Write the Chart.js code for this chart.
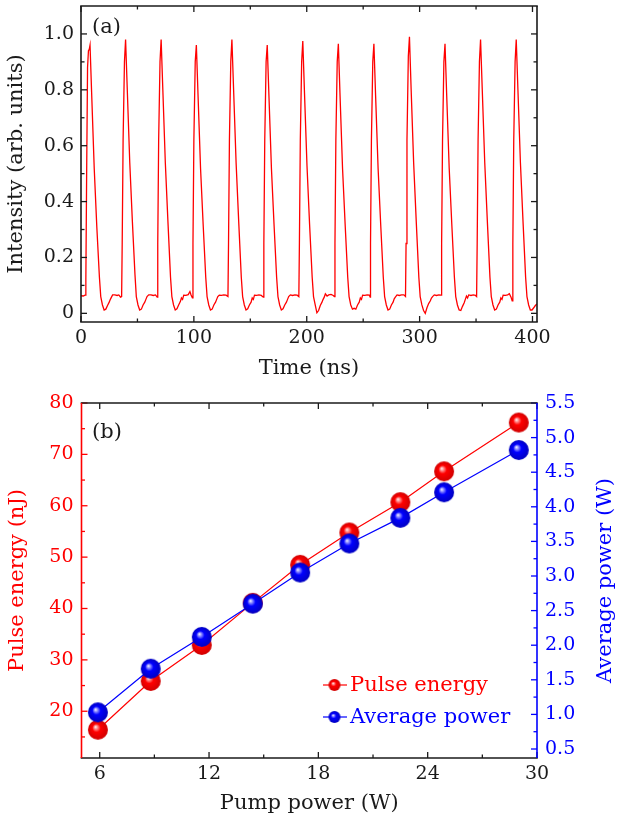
<!DOCTYPE html>
<html><head><meta charset="utf-8">
<script src="https://cdn.jsdelivr.net/npm/chart.js@4.4.1/dist/chart.umd.min.js"></script>
<style>
html,body{margin:0;padding:0;background:#fff;}
#wrapA{position:absolute;left:0;top:0;width:617px;height:385px;}
#wrapB{position:absolute;left:0;top:385px;width:617px;height:436px;}
canvas{display:block;}
</style></head><body>
<div id="wrapA"><canvas id="cA" width="617" height="385"></canvas></div>
<div id="wrapB"><canvas id="cB" width="617" height="436"></canvas></div>
<script>
// ---------- Panel (a): pulse train, [time (ns), intensity] ----------
const traceA = [
 [0,0.063],[2,0.062],[3.6,0.065],[4.3,0.12],[5.0,0.5],[5.8,0.88],[6.6,0.94],[7.3,0.945],[8.0,0.96],[9.5,0.78],[11.7,0.52],[14.0,0.31],[16.3,0.13],[17.5,0.06],[19.0,0.03],[20.5,0.012],[22.0,0.015],[23.5,0.028],[25.0,0.04],[26.0,0.05],[27.0,0.058],[28.0,0.066],[30.0,0.066],[32.0,0.064],[33.5,0.066],[35.0,0.058],[36.0,0.06],
 [36.5,0.25],[37.3,0.62],[38.5,0.9],[39.5,0.98],[41.0,0.8],[43.2,0.54],[45.5,0.33],[47.8,0.14],[49.0,0.06],[50.5,0.03],[52.0,0.012],[53.5,0.015],[55.0,0.03],[56.5,0.04],[57.5,0.05],[58.5,0.06],[60.0,0.066],[62.0,0.066],[64.0,0.064],[66.0,0.066],[67.5,0.058],
 [68.0,0.25],[68.8,0.62],[70.0,0.9],[71.0,0.98],[72.5,0.8],[74.7,0.54],[77.0,0.33],[79.3,0.13],[80.5,0.06],[82.0,0.03],[83.5,0.012],[85.0,0.016],[86.5,0.03],[88.0,0.042],[89.0,0.055],[90.0,0.05],[91.0,0.065],[93.0,0.064],[95.0,0.067],[96.5,0.078],[97.5,0.066],[98.7,0.055],
 [99.2,0.25],[100.0,0.62],[101.2,0.9],[102.2,0.96],[103.7,0.78],[105.9,0.52],[108.2,0.32],[110.5,0.13],[111.7,0.06],[113.2,0.03],[114.7,0.012],[116.2,0.015],[117.7,0.03],[119.2,0.04],[120.2,0.05],[121.2,0.06],[122.5,0.065],[124.5,0.064],[126.5,0.066],[128.5,0.065],[130.2,0.06],
 [130.7,0.25],[131.5,0.62],[132.7,0.9],[133.7,0.98],[135.2,0.8],[137.4,0.54],[139.7,0.33],[142.0,0.13],[143.2,0.06],[144.7,0.03],[146.2,0.012],[147.7,0.016],[149.2,0.03],[150.7,0.04],[151.7,0.055],[152.7,0.05],[153.7,0.065],[155.7,0.064],[157.7,0.066],[159.7,0.064],[161.5,0.058],
 [162.0,0.25],[162.8,0.62],[164.0,0.9],[165.0,0.96],[166.5,0.78],[168.7,0.52],[171.0,0.32],[173.3,0.13],[174.5,0.06],[176.0,0.03],[177.5,0.012],[179.0,0.016],[180.5,0.03],[182.0,0.04],[183.0,0.05],[184.0,0.06],[185.5,0.066],[187.5,0.064],[189.5,0.066],[191.5,0.065],[193.0,0.06],
 [193.5,0.25],[194.3,0.62],[195.5,0.9],[196.5,0.975],[198.0,0.79],[200.2,0.53],[202.5,0.32],[204.8,0.13],[206.0,0.06],[207.5,0.03],[209.0,0.002],[210.5,0.01],[212.0,0.028],[213.5,0.04],[214.5,0.05],[215.5,0.058],[216.5,0.07],[218.0,0.062],[219.5,0.066],[221.5,0.068],[223.5,0.064],[224.5,0.06],
 [225.0,0.25],[225.8,0.62],[227.0,0.9],[228.0,0.965],[229.5,0.78],[231.7,0.52],[234.0,0.32],[236.3,0.13],[237.5,0.06],[239.0,0.03],[240.5,0.015],[242.0,0.018],[243.5,0.015],[245.0,0.03],[246.5,0.04],[247.5,0.055],[248.5,0.05],[249.5,0.065],[251.5,0.064],[253.5,0.066],[255.5,0.065],[256.2,0.058],
 [256.5,0.25],[257.3,0.62],[258.5,0.9],[259.5,0.965],[261.0,0.78],[263.2,0.52],[265.5,0.32],[267.8,0.13],[269.0,0.06],[270.5,0.03],[272.0,0.012],[273.5,0.015],[275.0,0.03],[276.5,0.04],[277.5,0.052],[278.5,0.058],[280.0,0.066],[282.0,0.064],[284.0,0.066],[286.0,0.066],[287.5,0.06],
 [288.0,0.25],[288.8,0.62],[290.0,0.92],[291.0,0.99],[292.5,0.8],[294.7,0.54],[297.0,0.33],[299.3,0.13],[300.5,0.06],[302.0,0.03],[303.5,0.01],[305.0,0.0],[306.5,0.02],[308.0,0.035],[309.5,0.045],[310.5,0.055],[311.5,0.06],[313.0,0.066],[315.0,0.064],[317.0,0.066],[319.0,0.065],
 [319.5,0.25],[320.3,0.62],[321.5,0.9],[322.5,0.965],[324.0,0.78],[326.2,0.52],[328.5,0.32],[330.8,0.13],[332.0,0.06],[333.5,0.03],[335.0,0.012],[336.5,0.01],[338.0,0.025],[339.5,0.038],[340.5,0.05],[341.5,0.062],[342.5,0.055],[343.5,0.066],[345.5,0.064],[347.5,0.066],[349.5,0.064],[350.5,0.06],
 [351.0,0.25],[351.8,0.62],[353.0,0.9],[354.0,0.98],[355.5,0.8],[357.7,0.54],[360.0,0.33],[362.3,0.13],[363.5,0.06],[365.0,0.03],[366.5,0.012],[368.0,0.015],[369.5,0.03],[371.0,0.04],[372.0,0.055],[373.0,0.05],[374.0,0.065],[376.0,0.064],[378.0,0.066],[379.5,0.07],[381.0,0.058],[382.0,0.045],
 [382.6,0.25],[383.4,0.62],[384.6,0.9],[385.6,0.98],[387.1,0.8],[389.3,0.54],[391.6,0.33],[393.9,0.13],[395.1,0.06],[396.6,0.03],[398.1,0.012],[399.6,0.012],[401.1,0.02],[402.5,0.028],[404.0,0.034],[405.0,0.036]
];
const aXMajor = [0,100,200,300,400];
const aXMinor = [50,150,250,350];
const aXLabels = ['0','100','200','300','400'];
const aYMajor = [0,0.2,0.4,0.6,0.8,1.0];
const aYMinor = [0.1,0.3,0.5,0.7,0.9];
const aYLabels = ['0','0.2','0.4','0.6','0.8','1.0'];

// ---------- Panel (b) ----------
const pumpPower   = [5.9, 8.8, 11.6, 14.4, 17.0, 19.7, 22.5, 24.9, 29.0];
const pulseEnergy = [16.4, 25.9, 32.9, 41.1, 48.5, 54.8, 60.7, 66.7, 76.2];
const avgPower    = [1.03, 1.66, 2.12, 2.60, 3.05, 3.47, 3.84, 4.21, 4.82];
const bXMajor = [6,12,18,24,30];
const bXMinor = [9,15,21,27];
const bXLabels = ['6','12','18','24','30'];
const bYMajor = [20,30,40,50,60,70,80];
const bYMinor = [15,25,35,45,55,65,75];
const bYLabels = ['20','30','40','50','60','70','80'];
const bY1Major = [0.5,1.0,1.5,2.0,2.5,3.0,3.5,4.0,4.5,5.0,5.5];
const bY1Minor = [0.75,1.25,1.75,2.25,2.75,3.25,3.75,4.25,4.75,5.25];
const bY1Labels = ['0.5','1.0','1.5','2.0','2.5','3.0','3.5','4.0','4.5','5.0','5.5'];

const FONT = "'DejaVu Serif', serif";
const TICK_PX = 19, TITLE_PX = 21;
const RED = '#ff0000', BLUE = '#0000ff', INK = '#1a1a1a';
Chart.defaults.font.family = FONT;

function makeBall(r, base, light, dark) {
  const s = Math.ceil(r * 2 + 2);
  const c = document.createElement('canvas');
  c.width = s; c.height = s;
  const g = c.getContext('2d');
  const cx = s / 2, cy = s / 2;
  const grad = g.createRadialGradient(cx - r * 0.25, cy - r * 0.3, 0, cx, cy, r);
  grad.addColorStop(0, '#ffffff');
  grad.addColorStop(0.16, light);
  grad.addColorStop(0.42, base);
  grad.addColorStop(1, dark);
  g.fillStyle = grad;
  g.beginPath(); g.arc(cx, cy, r, 0, Math.PI * 2); g.fill();
  return c;
}
const redBall = makeBall(10, RED, '#ff9a9a', '#d00000');
const blueBall = makeBall(10, BLUE, '#9a9aff', '#0000c0');
const redBallS = makeBall(6, RED, '#ff9a9a', '#d00000');
const blueBallS = makeBall(6, BLUE, '#9a9aff', '#0000c0');

function setTicks(arr) { return (scale) => { scale.ticks = arr.map(v => ({ value: v })); }; }
function fitW(w) { return (s) => { s.width = w; s.paddingTop = 0; s.paddingBottom = 0; }; }
function fitH(h) { return (s) => { s.height = h; s.paddingLeft = 0; s.paddingRight = 0; }; }

function frameTicks(spec) {
  return {
    id: 'frameTicks',
    afterDatasetsDraw(chart) {
      const { ctx, chartArea: a } = chart;
      const MAJ = 6, MIN = 3.5;
      ctx.save();
      ctx.lineWidth = 1.3;
      const seg = (x1, y1, x2, y2, col) => { ctx.strokeStyle = col; ctx.beginPath(); ctx.moveTo(x1, y1); ctx.lineTo(x2, y2); ctx.stroke(); };
      const xs = chart.scales.x;
      const xt = (vals, len) => vals.forEach(v => { const p = xs.getPixelForValue(v); seg(p, a.bottom, p, a.bottom - len, INK); seg(p, a.top, p, a.top + len, INK); });
      xt(spec.xMajor, MAJ); xt(spec.xMinor, MIN);
      const ls = chart.scales[spec.leftId];
      const rs = chart.scales[spec.rightId];
      const lt = (vals, len) => vals.forEach(v => { const p = ls.getPixelForValue(v); seg(a.left, p, a.left + len, p, spec.leftColor); });
      const rt = (vals, len) => vals.forEach(v => { const p = rs.getPixelForValue(v); seg(a.right, p, a.right - len, p, spec.rightColor); });
      lt(spec.lMajor, MAJ); lt(spec.lMinor, MIN);
      rt(spec.rMajor, MAJ); rt(spec.rMinor, MIN);
      ctx.lineWidth = 1.6;
      seg(a.left - 0.8, a.top, a.right + 0.8, a.top, INK);
      seg(a.left - 0.8, a.bottom, a.right + 0.8, a.bottom, INK);
      seg(a.left, a.top, a.left, a.bottom, spec.leftColor);
      seg(a.right, a.top, a.right, a.bottom, spec.rightColor);
      ctx.restore();
    }
  };
}

// ---------- Chart A ----------
new Chart(document.getElementById('cA'), {
  type: 'line',
  data: { datasets: [{
    data: traceA.map(([x, y]) => ({ x, y })),
    borderColor: RED, borderWidth: 1.3, pointRadius: 0, fill: false, tension: 0
  }]},
  options: {
    responsive: false, animation: false, events: [],
    layout: { padding: { top: 6, right: 80, left: 0, bottom: 0 } },
    plugins: { legend: { display: false }, tooltip: { enabled: false } },
    scales: {
      x: {
        type: 'linear', min: 0, max: 404,
        afterBuildTicks: setTicks(aXMajor),
        afterFit: fitH(63),
        grid: { display: false, drawTicks: false }, border: { display: false },
        ticks: { font: { size: TICK_PX }, color: INK, padding: 5, maxRotation: 0, autoSkip: false,
                 callback: (v, i) => aXLabels[i] },
        title: { display: true, text: 'Time (ns)', font: { size: TITLE_PX }, color: INK, padding: { top: 0, bottom: 4 } }
      },
      y: {
        min: -0.031, max: 1.1,
        afterBuildTicks: setTicks(aYMajor),
        afterFit: fitW(81),
        grid: { display: false, drawTicks: false }, border: { display: false },
        ticks: { font: { size: TICK_PX }, color: INK, padding: 7, autoSkip: false,
                 callback: (v, i) => aYLabels[i] },
        title: { display: true, text: 'Intensity (arb. units)', font: { size: TITLE_PX }, color: INK, padding: { top: 4, bottom: 0 } }
      }
    }
  },
  plugins: [frameTicks({ xMajor: aXMajor, xMinor: aXMinor, leftId: 'y', rightId: 'y',
    lMajor: aYMajor, lMinor: aYMinor, rMajor: aYMajor, rMinor: aYMinor, leftColor: INK, rightColor: INK }),
    { id: 'panelLabelA', afterDraw(chart) { const c = chart.ctx; c.save(); c.font = TITLE_PX + 'px ' + FONT; c.fillStyle = INK; c.textBaseline = 'alphabetic'; c.fillText('(a)', chart.chartArea.left + 11, chart.chartArea.top + 27); c.restore(); } }]
});

// ---------- Chart B ----------
new Chart(document.getElementById('cB'), {
  type: 'line',
  data: { datasets: [
    { label: 'Pulse energy', data: pumpPower.map((x, i) => ({ x, y: pulseEnergy[i] })), yAxisID: 'y',
      borderColor: RED, borderWidth: 1.2, pointStyle: redBall, pointRadius: 10, tension: 0, clip: false, order: 2 },
    { label: 'Average power', data: pumpPower.map((x, i) => ({ x, y: avgPower[i] })), yAxisID: 'y1',
      borderColor: BLUE, borderWidth: 1.2, pointStyle: blueBall, pointRadius: 10, tension: 0, clip: false, order: 1 }
  ]},
  options: {
    responsive: false, animation: false, events: [],
    layout: { padding: { top: 18, right: 0, left: 0, bottom: 0 } },
    plugins: { legend: { display: false }, tooltip: { enabled: false } },
    scales: {
      x: {
        type: 'linear', min: 5, max: 30,
        afterBuildTicks: setTicks(bXMajor),
        afterFit: fitH(63),
        grid: { display: false, drawTicks: false }, border: { display: false },
        ticks: { font: { size: TICK_PX }, color: INK, padding: 5, maxRotation: 0, autoSkip: false,
                 callback: (v, i) => bXLabels[i] },
        title: { display: true, text: 'Pump power (W)', font: { size: TITLE_PX }, color: INK, padding: { top: 0, bottom: 5 } }
      },
      y: {
        position: 'left', min: 10.9, max: 80,
        afterBuildTicks: setTicks(bYMajor),
        afterFit: fitW(81.5),
        grid: { display: false, drawTicks: false }, border: { display: false },
        ticks: { font: { size: TICK_PX }, color: RED, padding: 8, autoSkip: false,
                 callback: (v, i) => bYLabels[i] },
        title: { display: true, text: 'Pulse energy (nJ)', font: { size: TITLE_PX }, color: RED, padding: { top: 5, bottom: 0 } }
      },
      y1: {
        position: 'right', min: 0.37, max: 5.5,
        afterBuildTicks: setTicks(bY1Major),
        afterFit: fitW(80),
        grid: { display: false, drawTicks: false }, border: { display: false },
        ticks: { font: { size: TICK_PX }, color: BLUE, padding: 8, autoSkip: false,
                 callback: (v, i) => bY1Labels[i] },
        title: { display: false }
      }
    }
  },
  plugins: [frameTicks({ xMajor: bXMajor, xMinor: bXMinor, leftId: 'y', rightId: 'y1',
    lMajor: bYMajor, lMinor: bYMinor, rMajor: bY1Major, rMinor: bY1Minor, leftColor: RED, rightColor: BLUE }),
    { id: 'extrasB', afterDraw(chart) {
        const c = chart.ctx, a = chart.chartArea;
        c.save();
        c.font = TITLE_PX + 'px ' + FONT;
        c.fillStyle = INK; c.textBaseline = 'alphabetic'; c.textAlign = 'left';
        c.fillText('(b)', a.left + 10.5, a.top + 35);
        c.save();
        c.translate(606, (a.top + a.bottom) / 2);
        c.rotate(-Math.PI / 2);
        c.fillStyle = BLUE; c.textAlign = 'center'; c.textBaseline = 'middle';
        c.fillText('Average power (W)', 0, 0);
        c.restore();
        const items = [
          { text: 'Pulse energy', col: RED, ball: redBallS, y: a.top + 282 },
          { text: 'Average power', col: BLUE, ball: blueBallS, y: a.top + 314 }
        ];
        items.forEach(it => {
          c.strokeStyle = it.col; c.lineWidth = 1.2;
          c.beginPath(); c.moveTo(a.left + 241.5, it.y); c.lineTo(a.left + 265.5, it.y); c.stroke();
          c.drawImage(it.ball, a.left + 253 - it.ball.width / 2, it.y - it.ball.height / 2);
          c.fillStyle = it.col; c.textAlign = 'left'; c.textBaseline = 'middle';
          c.fillText(it.text, a.left + 268.5, it.y + 1);
        });
        c.restore();
      } }]
});
</script>
</body></html>
